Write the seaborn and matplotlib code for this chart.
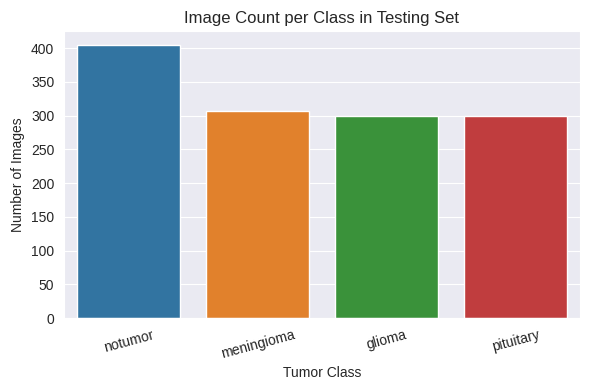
import matplotlib
matplotlib.use("Agg")
import matplotlib.pyplot as plt
import seaborn as sns
import pandas as pd

classes = ["notumor", "meningioma", "glioma", "pituitary"]
counts = [405, 306, 300, 300]

sns.set_style("darkgrid")
plt.rcParams['font.family'] = ['Liberation Sans', 'DejaVu Sans']

df = pd.DataFrame({"Tumor Class": classes, "Number of Images": counts})
fig, ax = plt.subplots(figsize=(5.9, 3.9), dpi=100)
sns.barplot(data=df, x="Tumor Class", y="Number of Images", hue="Tumor Class",
            palette="tab10", legend=False, ax=ax)
ax.set_title("Image Count per Class in Testing Set")
ax.tick_params(axis='x', rotation=15)
fig.subplots_adjust(left=64/590, right=580/590, top=1-31/390, bottom=1-318/390)
fig.savefig("out.png", dpi=100)
